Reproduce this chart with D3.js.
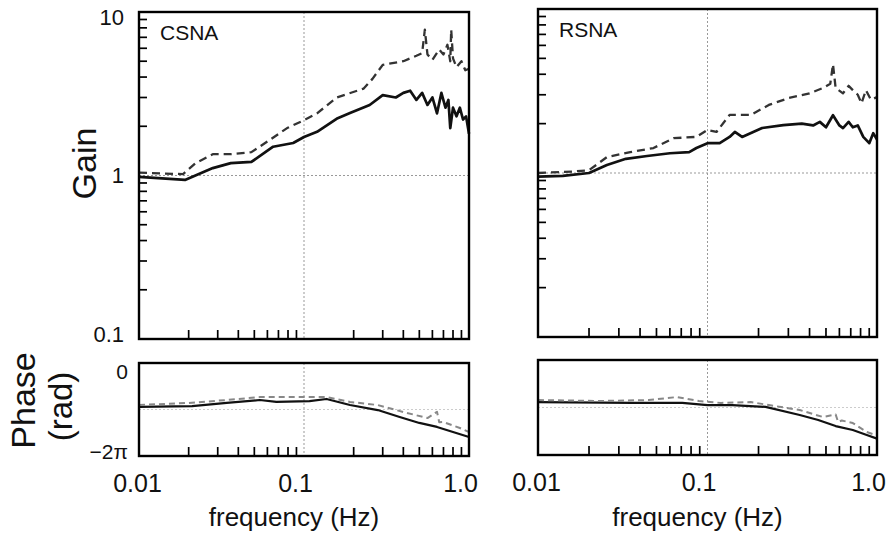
<!DOCTYPE html>
<html>
<head>
<meta charset="utf-8">
<script src="https://cdn.jsdelivr.net/npm/d3@7"></script>
<style>
  body { margin: 0; background: #fff; }
  svg { font-family: "Liberation Sans", Arial, sans-serif; }
</style>
</head>
<body>
<svg id="chart" width="890" height="534"></svg>
<script>
// ---- data ----
// CSNA gain
var csnaSolidFreq = [0.01, 0.019, 0.028, 0.036, 0.048, 0.065, 0.086, 0.1, 0.12, 0.16, 0.19, 0.25, 0.3, 0.36, 0.4, 0.44, 0.48, 0.52, 0.56, 0.6, 0.64, 0.68, 0.72, 0.75, 0.77, 0.8, 0.84, 0.88, 0.92, 0.96, 1.0];
var csnaSolidGain = [0.98, 0.94, 1.11, 1.19, 1.21, 1.50, 1.58, 1.72, 1.85, 2.24, 2.41, 2.70, 3.1, 3.0, 3.2, 3.3, 2.9, 3.2, 2.7, 3.0, 2.4, 3.2, 2.6, 2.9, 1.95, 2.6, 2.3, 2.6, 2.2, 2.3, 1.8];
var csnaDashFreq = [0.01, 0.0185, 0.022, 0.028, 0.036, 0.048, 0.062, 0.079, 0.1, 0.12, 0.158, 0.23, 0.26, 0.3, 0.4, 0.48, 0.52, 0.54, 0.56, 0.6, 0.66, 0.7, 0.74, 0.77, 0.78, 0.8, 0.84, 0.9, 0.95, 1.0];
var csnaDashGain = [1.04, 1.02, 1.19, 1.35, 1.35, 1.39, 1.65, 1.95, 2.18, 2.4, 3.0, 3.4, 3.9, 4.75, 5.0, 5.4, 5.6, 7.8, 5.5, 5.1, 5.9, 5.5, 6.3, 5.0, 7.8, 5.2, 4.6, 5.0, 4.4, 4.5];

// RSNA gain
var rsnaSolidFreq = [0.01, 0.014, 0.02, 0.0255, 0.033, 0.044, 0.06, 0.078, 0.086, 0.1, 0.118, 0.135, 0.145, 0.16, 0.21, 0.28, 0.36, 0.42, 0.46, 0.5, 0.55, 0.6, 0.63, 0.68, 0.72, 0.77, 0.83, 0.9, 0.95, 1.0];
var rsnaSolidGain = [0.95, 0.96, 1.0, 1.12, 1.22, 1.27, 1.32, 1.34, 1.42, 1.52, 1.52, 1.66, 1.78, 1.66, 1.88, 1.96, 2.0, 1.95, 2.05, 1.9, 2.25, 1.95, 1.88, 2.05, 1.9, 1.95, 1.66, 1.52, 1.75, 1.6];
var rsnaDashFreq = [0.01, 0.016, 0.02, 0.0255, 0.035, 0.048, 0.063, 0.086, 0.1, 0.113, 0.135, 0.18, 0.23, 0.3, 0.4, 0.48, 0.53, 0.55, 0.57, 0.63, 0.68, 0.72, 0.77, 0.81, 0.86, 0.92, 1.0];
var rsnaDashGain = [1.0, 1.02, 1.04, 1.25, 1.34, 1.42, 1.63, 1.66, 1.83, 1.78, 2.26, 2.26, 2.6, 2.86, 3.06, 3.3, 3.5, 4.6, 3.3, 3.06, 3.4, 3.2, 3.0, 2.66, 3.2, 2.8, 2.9];

// phase (rad)
var csnaPhaseFreq = [0.01, 0.021, 0.034, 0.054, 0.068, 0.108, 0.137, 0.19, 0.28, 0.38, 0.5, 0.64, 0.8, 1.0];
var csnaSolidPhase = [-2.97, -2.91, -2.70, -2.50, -2.63, -2.57, -2.43, -2.84, -3.18, -3.65, -4.05, -4.32, -4.66, -5.0];
var csnaDashPhaseFreq = [0.01, 0.02, 0.034, 0.054, 0.086, 0.137, 0.19, 0.28, 0.4, 0.56, 0.64, 0.66, 0.7, 0.88, 1.0];
var csnaDashPhase = [-2.84, -2.70, -2.50, -2.30, -2.30, -2.30, -2.63, -2.84, -3.31, -3.72, -3.3, -4.0, -3.99, -4.39, -4.66];

var rsnaPhaseFreq = [0.01, 0.036, 0.071, 0.1, 0.14, 0.22, 0.35, 0.45, 0.57, 0.72, 0.87, 1.0];
var rsnaSolidPhase = [-2.78, -2.84, -2.84, -2.98, -2.98, -3.1, -3.64, -3.97, -4.37, -4.63, -4.96, -5.2];
var rsnaDashPhaseFreq = [0.01, 0.023, 0.045, 0.066, 0.089, 0.12, 0.18, 0.23, 0.35, 0.48, 0.57, 0.59, 0.62, 0.72, 0.87, 1.0];
var rsnaDashPhase = [-2.65, -2.71, -2.65, -2.45, -2.71, -2.84, -2.78, -2.98, -3.31, -3.77, -3.6, -4.1, -4.0, -4.17, -4.76, -5.0];

var xTicks = [0.01, 0.1, 1.0];
var xTickLabels = ["0.01", "0.1", "1.0"];
var gainTicks = [0.1, 1, 10];
var gainTickLabels = ["0.1", "1", "10"];
var phaseTicks = [0, -2 * Math.PI];
var phaseTickLabels = ["0", "\u22122\u03c0"];

// ---- layout ----
var panels = [
  { name: "CSNA", x0: 139, x1: 469, gy0: 12, gy1: 339, py0: 363, py1: 456, labels: true,
    gain: [[csnaSolidFreq, csnaSolidGain, false], [csnaDashFreq, csnaDashGain, true]],
    phase: [[csnaPhaseFreq, csnaSolidPhase, false], [csnaDashPhaseFreq, csnaDashPhase, true]] },
  { name: "RSNA", x0: 538, x1: 877, gy0: 9, gy1: 337, py0: 360, py1: 455, labels: false,
    gain: [[rsnaSolidFreq, rsnaSolidGain, false], [rsnaDashFreq, rsnaDashGain, true]],
    phase: [[rsnaPhaseFreq, rsnaSolidPhase, false], [rsnaDashPhaseFreq, rsnaDashPhase, true]] }
];

var svg = d3.select("#chart");

// minor log ticks 2..9 in each decade
function minorTicks(lo, hi) {
  var out = [];
  for (var d = lo; d < hi; d *= 10) {
    for (var k = 2; k <= 9; k++) out.push(d * k);
  }
  return out;
}

panels.forEach(function(p) {
  var x = d3.scaleLog().domain([0.01, 1]).range([p.x0, p.x1]);
  var yG = d3.scaleLog().domain([0.1, 10]).range([p.gy1, p.gy0]);
  var yP = d3.scaleLinear().domain([-2 * Math.PI, 0]).range([p.py1, p.py0]);

  // gridlines
  var grid = svg.append("g").attr("stroke", "#999").attr("stroke-width", 1).attr("stroke-dasharray", "2,2");
  grid.append("line").attr("x1", x(0.1)).attr("x2", x(0.1)).attr("y1", p.gy0).attr("y2", p.gy1);
  grid.append("line").attr("x1", p.x0).attr("x2", p.x1).attr("y1", yG(1)).attr("y2", yG(1));
  grid.append("line").attr("x1", x(0.1)).attr("x2", x(0.1)).attr("y1", p.py0).attr("y2", p.py1);
  grid.append("line").attr("x1", p.x0).attr("x2", p.x1).attr("y1", yP(-Math.PI)).attr("y2", yP(-Math.PI))
    .attr("stroke", "#ccc").attr("stroke-dasharray", null);

  // minor ticks inside frames
  var ticks = svg.append("g").attr("stroke", "#000").attr("stroke-width", 1.7);
  minorTicks(0.01, 1).forEach(function(f) {
    ticks.append("line").attr("x1", x(f)).attr("x2", x(f)).attr("y1", p.gy1).attr("y2", p.gy1 - 9);
    ticks.append("line").attr("x1", x(f)).attr("x2", x(f)).attr("y1", p.py1).attr("y2", p.py1 - 9);
  });
  minorTicks(0.1, 10).forEach(function(g) {
    ticks.append("line").attr("x1", p.x0).attr("x2", p.x0 + 8).attr("y1", yG(g)).attr("y2", yG(g));
  });

  // lines
  var gainLine = d3.line().x(function(d) { return x(d[0]); }).y(function(d) { return yG(d[1]); });
  var phaseLine = d3.line().x(function(d) { return x(d[0]); }).y(function(d) { return yP(d[1]); });

  p.gain.forEach(function(s) {
    var pts = s[0].map(function(f, i) { return [f, s[1][i]]; });
    svg.append("path").datum(pts)
      .attr("fill", "none")
      .attr("stroke", s[2] ? "#333" : "#111")
      .attr("stroke-width", s[2] ? 2.3 : 2.7)
      .attr("stroke-dasharray", s[2] ? "8,5" : null)
      .attr("stroke-linejoin", "round")
      .attr("d", gainLine);
  });
  p.phase.forEach(function(s) {
    var pts = s[0].map(function(f, i) { return [f, s[1][i]]; });
    svg.append("path").datum(pts)
      .attr("fill", "none")
      .attr("stroke", s[2] ? "#888" : "#111")
      .attr("stroke-width", s[2] ? 2 : 2.2)
      .attr("stroke-dasharray", s[2] ? "6,4" : null)
      .attr("stroke-linejoin", "round")
      .attr("d", phaseLine);
  });

  // frames
  svg.append("rect").attr("x", p.x0).attr("y", p.gy0).attr("width", p.x1 - p.x0).attr("height", p.gy1 - p.gy0)
    .attr("fill", "none").attr("stroke", "#000").attr("stroke-width", 2.4);
  svg.append("rect").attr("x", p.x0).attr("y", p.py0).attr("width", p.x1 - p.x0).attr("height", p.py1 - p.py0)
    .attr("fill", "none").attr("stroke", "#000").attr("stroke-width", 2.4);

  // panel name
  svg.append("text").attr("x", p.x0 + 21).attr("y", p.gy0 + 28)
    .attr("font-size", 21).attr("fill", "#111").text(p.name);

  // x tick labels
  var xAxis = d3.axisBottom(x).tickValues(xTicks).tickSize(0)
    .tickFormat(function(d, i) { return xTickLabels[i]; });
  var xg = svg.append("g").attr("transform", "translate(0," + (p.py1 + 15) + ")").call(xAxis);
  xg.select(".domain").remove();
  xg.selectAll("text").attr("font-size", 25).attr("font-family", "Liberation Sans, Arial, sans-serif")
    .attr("fill", "#111").attr("dx", function(d) { return d > 0.01 ? -9 : -2; });

  svg.append("text").attr("x", (p.x0 + p.x1) / 2 - 10).attr("y", 526)
    .attr("text-anchor", "middle").attr("font-size", 26).attr("fill", "#111").text("frequency (Hz)");

  if (p.labels) {
    var yAxis = d3.axisLeft(yG).tickValues(gainTicks).tickSize(0)
      .tickFormat(function(d, i) { return gainTickLabels[i]; });
    var yg = svg.append("g").attr("transform", "translate(" + (p.x0 - 12) + ",0)").call(yAxis);
    yg.select(".domain").remove();
    yg.selectAll("text").attr("font-size", 22).attr("font-family", "Liberation Sans, Arial, sans-serif").attr("fill", "#111")
      .attr("dy", function(d) { return d === 10 ? "0.55em" : (d === 0.1 ? "0.1em" : "0.32em"); });

    var pAxis = d3.axisLeft(yP).tickValues(phaseTicks).tickSize(0)
      .tickFormat(function(d, i) { return phaseTickLabels[i]; });
    var pg = svg.append("g").attr("transform", "translate(" + (p.x0 - 8) + ",0)").call(pAxis);
    pg.select(".domain").remove();
    pg.selectAll("text").attr("font-size", 21).attr("font-family", "Liberation Sans, Arial, sans-serif").attr("fill", "#111")
      .attr("dy", function(d) { return d === 0 ? "0.75em" : "0.1em"; });

    svg.append("text").attr("transform", "translate(96," + ((p.gy0 + p.gy1) / 2 - 12) + ") rotate(-90)")
      .attr("text-anchor", "middle").attr("font-size", 34).attr("fill", "#111").text("Gain");
    svg.append("text").attr("transform", "translate(35," + ((p.py0 + p.py1) / 2 - 9) + ") rotate(-90)")
      .attr("text-anchor", "middle").attr("font-size", 34).attr("fill", "#111").text("Phase");
    svg.append("text").attr("transform", "translate(72," + ((p.py0 + p.py1) / 2 - 3) + ") rotate(-90)")
      .attr("text-anchor", "middle").attr("font-size", 33).attr("fill", "#111").text("(rad)");
  }
});
</script>
</body>
</html>
